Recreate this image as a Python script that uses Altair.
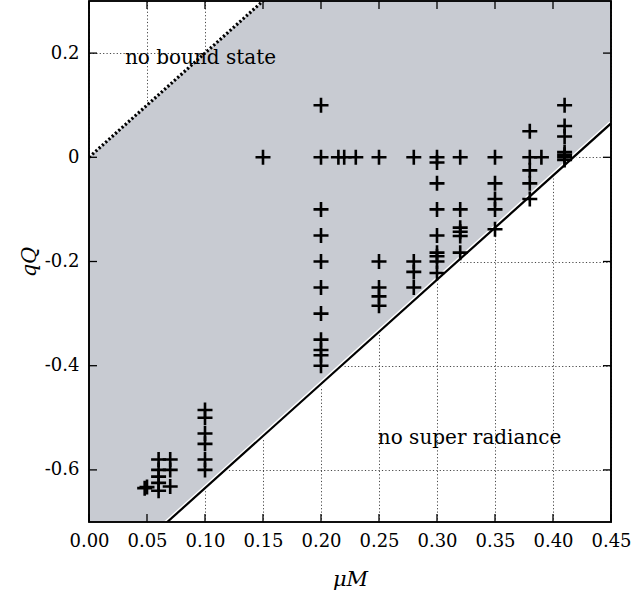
import altair as alt
import pandas as pd

# ---- data ----
mu_M = [0.048, 0.05,
        0.06, 0.06, 0.06, 0.06, 0.06,
        0.07, 0.07, 0.07,
        0.10, 0.10, 0.10, 0.10, 0.10, 0.10,
        0.15,
        0.20, 0.20, 0.20, 0.20, 0.20, 0.20, 0.20, 0.20, 0.20, 0.20, 0.20,
        0.215, 0.22, 0.23,
        0.25, 0.25, 0.25, 0.25, 0.25,
        0.28, 0.28, 0.28, 0.28,
        0.30, 0.30, 0.30, 0.30, 0.30, 0.30, 0.30, 0.30, 0.30,
        0.32, 0.32, 0.32, 0.32, 0.32, 0.32,
        0.35, 0.35, 0.35, 0.35, 0.35,
        0.38, 0.38, 0.38, 0.38, 0.38,
        0.39,
        0.41, 0.41, 0.41, 0.41, 0.41, 0.41, 0.41]
qQ = [-0.635, -0.633,
      -0.58, -0.60, -0.613, -0.625, -0.64,
      -0.58, -0.60, -0.632,
      -0.485, -0.50, -0.53, -0.55, -0.58, -0.60,
      0.0,
      0.10, 0.0, -0.10, -0.15, -0.20, -0.25, -0.30, -0.35, -0.37, -0.38, -0.40,
      0.0, 0.0, 0.0,
      0.0, -0.20, -0.25, -0.267, -0.285,
      0.0, -0.20, -0.22, -0.25,
      0.0, -0.01, -0.05, -0.10, -0.15, -0.183, -0.19, -0.20, -0.222,
      0.0, -0.10, -0.135, -0.143, -0.151, -0.183,
      0.0, -0.05, -0.08, -0.10, -0.138,
      0.05, 0.0, -0.025, -0.05, -0.08,
      0.0,
      0.10, 0.06, 0.04, 0.01, 0.005, 0.0, -0.005]

line_x = [0.0, 0.45]
bound_y = [0.0, 0.9]          # "no bound state" boundary (dotted)
super_y = [-0.835, 0.065]     # "no super radiance" boundary (solid)

x_ticks = [0.0, 0.05, 0.10, 0.15, 0.20, 0.25, 0.30, 0.35, 0.40, 0.45]
y_ticks = [-0.6, -0.4, -0.2, 0.0, 0.2]

note_text = ["no bound state", "no super radiance"]
note_x = [0.031, 0.249]
note_y = [0.19, -0.539]

W, H = 522, 521
SERIF = "DejaVu Serif"

pts = pd.DataFrame({"x": mu_M, "y": qQ})
lines = pd.DataFrame({"x": line_x, "upper": bound_y, "lower": super_y})
notes = pd.DataFrame({"t": note_text, "x": note_x, "y": note_y})
xt = pd.DataFrame({"x": x_ticks})
yt = pd.DataFrame({"y": y_ticks})

xs = alt.Scale(domain=[0, 0.45], nice=False, zero=False)
ys = alt.Scale(domain=[-0.7, 0.3], nice=False, zero=False)

x_axis = alt.Axis(values=x_ticks, format=".2f", title="μM", labelPadding=10,
                  titlePadding=18, labelOverlap=False, labelFlush=False)
y_axis = alt.Axis(values=y_ticks,
                  labelExpr="datum.value == 0 ? '0' : replace(format(datum.value, '.1f'), '\u2212', '-')",
                  title="qQ", labelPadding=10, titlePadding=5, labelOverlap=False,
                  labelFlush=False)


def X(field):
    return alt.X(field, type="quantitative", scale=xs, axis=x_axis)


def Y(field):
    return alt.Y(field, type="quantitative", scale=ys, axis=y_axis)


area = alt.Chart(lines).mark_area(color="#c8cbd2", clip=True, opacity=1).encode(
    x=X("x"), y=Y("lower"), y2="upper",
)

white_edge = alt.Chart(lines).mark_line(color="white", strokeWidth=5, clip=True).encode(
    x=X("x"), y=Y("lower"))
super_line = alt.Chart(lines).mark_line(color="black", strokeWidth=2.2, clip=True).encode(
    x=X("x"), y=Y("lower"))
bound_line = alt.Chart(lines).mark_line(color="black", strokeWidth=3.2, strokeDash=[2.2, 2.2],
                                        clip=True).encode(
    x=X("x"), y=Y("upper"))

plus = alt.Chart(pts).mark_point(shape="M-1,0L1,0M0,-1L0,1", size=225, filled=False,
                                 color="black", strokeWidth=2.6, opacity=1).encode(
    x=X("x"), y=Y("y"))

text = alt.Chart(notes).mark_text(font=SERIF, fontSize=20, align="left", baseline="middle",
                                  color="black").encode(
    x=X("x"), y=Y("y"), text="t:N")

TL = 8
xtick_b = alt.Chart(xt).mark_rule(color="black", strokeWidth=1.3).encode(
    x=X("x"), y=alt.value(H), y2=alt.value(H - TL))
xtick_t = alt.Chart(xt).mark_rule(color="black", strokeWidth=1.3).encode(
    x=X("x"), y=alt.value(0), y2=alt.value(TL))
ytick_l = alt.Chart(yt).mark_rule(color="black", strokeWidth=1.3).encode(
    y=Y("y"), x=alt.value(0), x2=alt.value(TL))
ytick_r = alt.Chart(yt).mark_rule(color="black", strokeWidth=1.3).encode(
    y=Y("y"), x=alt.value(W), x2=alt.value(W - TL))

frame = alt.Chart(lines).mark_rect(filled=False, stroke="black", strokeWidth=1.6).encode(
    x=alt.value(0), x2=alt.value(W), y=alt.value(0), y2=alt.value(H))

chart = alt.layer(area, white_edge, super_line, bound_line, plus, text,
                  xtick_b, xtick_t, ytick_l, ytick_r, frame).properties(
    width=W, height=H,
    autosize=alt.AutoSizeParams(type="none"),
    padding={"left": 89, "top": 1, "right": 23, "bottom": 72},
).configure_view(stroke=None).configure_axis(
    labelFont=SERIF, labelFontSize=18, labelColor="black",
    titleFont=SERIF, titleFontSize=21, titleFontStyle="italic", titleFontWeight="normal",
    titleColor="black",
    tickSize=0, domain=False,
    grid=True, gridColor="#333333", gridDash=[1.2, 2.2], gridWidth=0.9, gridOpacity=1,
    zindex=1,
)

chart.save("out.html", embed_options={"renderer": "svg", "actions": False})
